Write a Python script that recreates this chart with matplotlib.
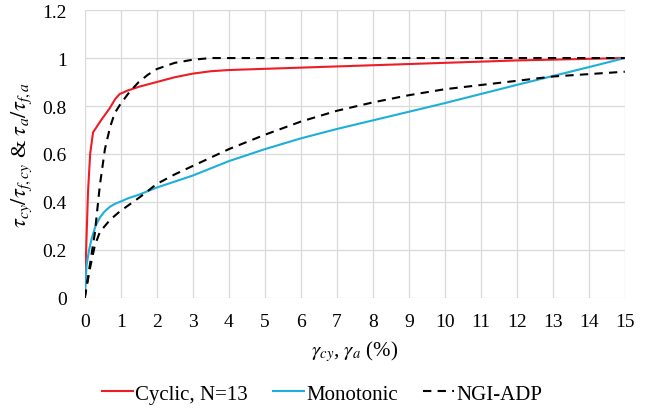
# normalised stress-strain curves, cyclic vs monotonic vs NGI-ADP
import matplotlib
matplotlib.use('Agg')
import matplotlib.pyplot as plt

plt.rcParams['font.family'] = ['Liberation Serif', 'DejaVu Serif']
plt.rcParams['mathtext.fontset'] = 'stix'

cyc_x = [0, 0.03, 0.09, 0.15, 0.23, 0.45, 0.69, 0.85, 0.97, 1.2, 1.5, 2, 2.5, 3, 3.5, 4, 5, 6, 8, 10, 12, 15]
cyc_y = [0, 0.16, 0.44, 0.60, 0.69, 0.74, 0.79, 0.83, 0.85, 0.865, 0.88, 0.90, 0.92, 0.935, 0.945, 0.95, 0.955, 0.96, 0.97, 0.98, 0.99, 1.0]

mono_x = [0, 0.05, 0.12, 0.19, 0.3, 0.42, 0.55, 0.7, 0.85, 0.97, 1.2, 1.5, 2, 3, 4, 5, 6, 7, 10, 12, 13, 14, 15]
mono_y = [0, 0.135, 0.2, 0.246, 0.3, 0.335, 0.36, 0.38, 0.393, 0.40, 0.415, 0.43, 0.46, 0.51, 0.57, 0.62, 0.665, 0.704, 0.812, 0.888, 0.925, 0.962, 1.0]

ngi1_x = [0, 0.14, 0.28, 0.42, 0.56, 0.7, 0.83, 1.0, 1.25, 1.5, 1.75, 2, 2.5, 3, 3.5, 15]
ngi1_y = [0, 0.135, 0.27, 0.47, 0.62, 0.71, 0.77, 0.81, 0.86, 0.90, 0.93, 0.954, 0.98, 0.993, 1.0, 1.0]

ngi2_x = [0, 0.14, 0.28, 0.42, 0.7, 0.97, 1.25, 1.53, 2, 2.5, 3, 4, 5, 6, 7, 8, 9, 10, 12, 13, 15]
ngi2_y = [0, 0.12, 0.218, 0.275, 0.325, 0.36, 0.39, 0.42, 0.475, 0.515, 0.55, 0.62, 0.68, 0.735, 0.78, 0.815, 0.845, 0.87, 0.905, 0.923, 0.943]

fig = plt.figure(figsize=(6.57, 4.10), dpi=100)
ax = fig.add_axes([0.129, 0.271, 0.822, 0.702])

l1, = ax.plot(cyc_x, cyc_y, color='#ee1c25', lw=1.5)
l2, = ax.plot(mono_x, mono_y, color='#1eaedb', lw=1.5)
l3, = ax.plot(ngi1_x, ngi1_y, color='black', lw=1.5, ls=(0, (4, 3)))
ax.plot(ngi2_x, ngi2_y, color='black', lw=1.5, ls=(0, (4, 3)))

ax.set_xlim(0, 15)
ax.set_ylim(0, 1.2)
ax.set_xticks(range(0, 16))
ax.set_yticks([0, 0.2, 0.4, 0.6, 0.8, 1, 1.2])
ax.set_yticklabels(['0', '0.2', '0.4', '0.6', '0.8', '1', '1.2'])
ax.grid(True, color='#d9d9d9', lw=0.9)
ax.set_axisbelow(True)
for s in ax.spines.values():
    s.set_visible(False)
ax.tick_params(length=0, labelsize=14)
ax.tick_params(axis='y', pad=13)
ax.tick_params(axis='x', pad=11)

ax.set_xlabel(r'$\gamma_{cy}$, $\gamma_a$ (%)', fontsize=15, labelpad=6)
ax.set_ylabel(r'$\tau_{cy}/\tau_{f,cy}$ & $\tau_a/\tau_{f,a}$', fontsize=16, labelpad=6)

fig.legend([l1, l2, l3], ['Cyclic, N=13', 'Monotonic', 'NGI-ADP'],
           loc='center', bbox_to_anchor=(0.49, 0.037), ncol=3, frameon=False,
           fontsize=15, handlelength=1.5, handletextpad=0.1, columnspacing=1.2)

plt.savefig('out.png', dpi=100)
